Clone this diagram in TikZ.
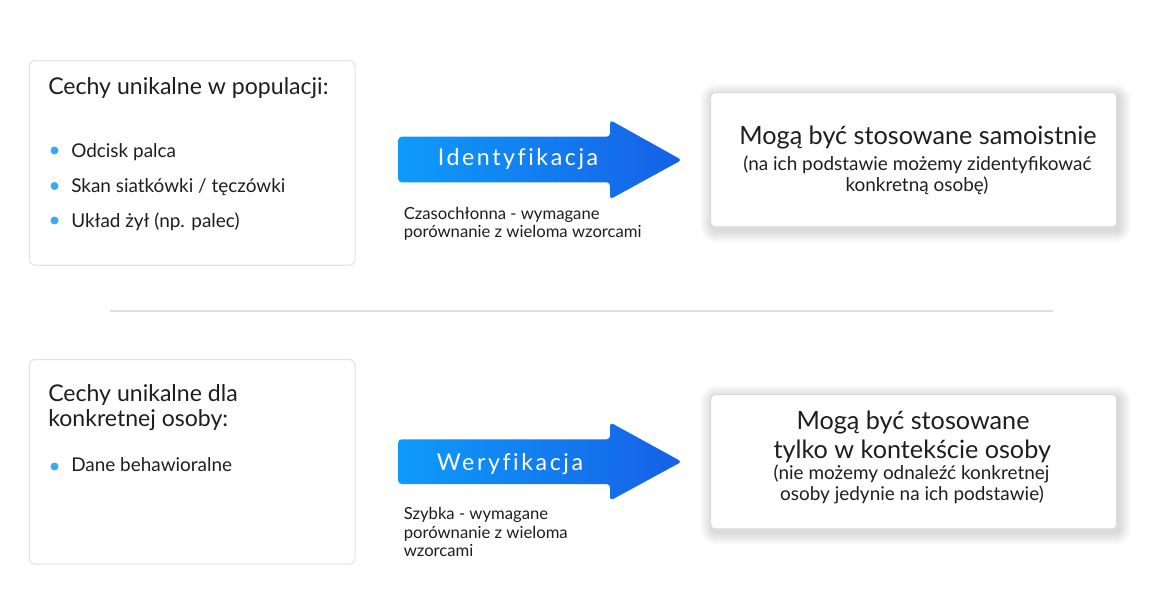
\documentclass[tikz,border=0pt]{standalone}
\usepackage{fontspec}
\setmainfont{Lato}
\newfontfamily\spacedfont[LetterSpace=11,Ligatures=NoCommon]{Lato}
\usetikzlibrary{backgrounds}
\definecolor{boxline}{HTML}{E2E2E2}
\definecolor{boxline2}{HTML}{D9D9D9}
\definecolor{sepline}{HTML}{E0E0E0}
\definecolor{dotblue}{HTML}{3AA8F8}
\definecolor{arrowL}{HTML}{0E9BFA}
\definecolor{arrowR}{HTML}{1660E6}
\definecolor{txt}{HTML}{1E1E1E}
\tikzset{
  leftbox/.style={draw=boxline, line width=0.8pt, rounded corners=4.5pt, fill=white, inner sep=0pt, minimum width=244.3pt, minimum height=153.5pt},
  rightbox/.style={draw=boxline2, line width=0.8pt, rounded corners=3pt, fill=white, inner sep=0pt, minimum width=304.5pt, minimum height=100.7pt},
  shadowlayer/.style={fill=black, opacity=0.011},
  title/.style={anchor=base west, inner sep=0pt, text=txt, font=\fontsize{17.3pt}{20pt}\selectfont},
  item/.style={anchor=base west, inner sep=0pt, text=txt, font=\fontsize{14.2pt}{17pt}\selectfont},
  dot/.style={circle, fill=dotblue, inner sep=0pt, minimum size=6pt},
  arrowlbl/.style={anchor=base, inner sep=0pt, text=white, font=\spacedfont\fontsize{17.4pt}{20pt}\selectfont},
  note/.style={anchor=base west, inner sep=0pt, text=txt, font=\fontsize{12.5pt}{15pt}\selectfont},
  mainline/.style={anchor=base, inner sep=0pt, text=txt, font=\fontsize{18.9pt}{22pt}\selectfont},
  subline/.style={anchor=base, inner sep=0pt, text=txt, font=\fontsize{14.2pt}{17pt}\selectfont},
  bigarrow/.style={left color=arrowL, right color=arrowR, rounded corners=2.5pt}
}
\begin{document}
\begin{tikzpicture}[x=0.75pt,y=-0.75pt]
\useasboundingbox (0,0) rectangle (1162,595);

% separator
\coordinate (sepL) at (110,311);
\coordinate (sepR) at (1053,311);
\draw[sepline, line width=0.8pt] (sepL) -- (sepR);

% ---------- top row ----------
\node[leftbox] (boxA) at (192.2,162.9) {};
\node[title] (titleA) at (48,95) {Cechy unikalne w populacji:};
\node[dot] (dA1) at (54.5,150.5) {};
\node[item] (iA1) at (71,157.3) {Odcisk palca};
\node[dot] (dA2) at (54.5,186) {};
\node[item] (iA2) at (71,192.7) {Skan siatkówki / tęczówki};
\node[dot] (dA3) at (54.5,220.5) {};
\node[item] (iA3) at (71,227.3) {Układ żył (np. palec)};

\coordinate (a1s) at (398.3,136.7);
\coordinate (a1t) at (681.7,160);
\shade[bigarrow] (a1s) -- (610,136.7) -- (610,120) -- (a1t) -- (610,199.3) -- (610,182.3) -- (398.3,182.3) -- cycle;
\node[arrowlbl] (lblA) at (518,166) {Identyfikacja};
\node[note] (nA1) at (403.5,219.5) {Czasochłonna - wymagane};
\node[note] (nA2) at (403.5,237.3) {porównanie z wieloma wzorcami};

\node[rightbox] (boxB) at (913.7,159.7) {};
\node[mainline] (mB) at (918,145) {Mogą być stosowane samoistnie};
\node[subline] (sB1) at (917.5,170.5) {(na ich podstawie możemy zidentyfikować};
\node[subline] (sB2) at (917,191.5) {konkretną osobę)};

% ---------- bottom row ----------
\node[leftbox] (boxC) at (192.2,461.8) {};
\node[title] (titleC1) at (48,401.7) {Cechy unikalne dla};
\node[title] (titleC2) at (48,426.5) {konkretnej osoby:};
\node[dot] (dC1) at (54.5,466.5) {};
\node[item] (iC1) at (71,471.7) {Dane behawioralne};

\coordinate (a2s) at (398.3,439.3);
\coordinate (a2t) at (681.7,461.7);
\shade[bigarrow] (a2s) -- (610,439.3) -- (610,422.3) -- (a2t) -- (610,500.7) -- (610,484) -- (398.3,484) -- cycle;
\node[arrowlbl] (lblC) at (510,470.7) {Weryfikacja};
\node[note] (nC1) at (403.5,519.3) {Szybka - wymagane};
\node[note] (nC2) at (403.5,538) {porównanie z wieloma};
\node[note] (nC3) at (403.5,556.7) {wzorcami};

\node[rightbox] (boxD) at (913.7,461.7) {};
\node[mainline] (mD1) at (913,429.3) {Mogą być stosowane};
\node[mainline] (mD2) at (912.3,458.3) {tylko w kontekście osoby};
\node[subline] (sD1) at (911.5,479) {(nie możemy odnaleźć konkretnej};
\node[subline] (sD2) at (912,500) {osoby jedynie na ich podstawie)};

% soft shadows behind the right boxes
\begin{scope}[on background layer]
  \fill[white] (0,0) rectangle (1162,595);
  \foreach \b in {boxB,boxD}{
    \foreach \i in {1,...,12}{
      \fill[shadowlayer, rounded corners={3pt+0.75*\i pt}]
        ([shift={(-\i*0.75pt+1.5pt,\i*0.75pt-2.5pt)}]\b.north west) rectangle
        ([shift={(\i*0.75pt+1.5pt,-\i*0.75pt-2.5pt)}]\b.south east);
    }
  }
\end{scope}
\end{tikzpicture}
\end{document}
